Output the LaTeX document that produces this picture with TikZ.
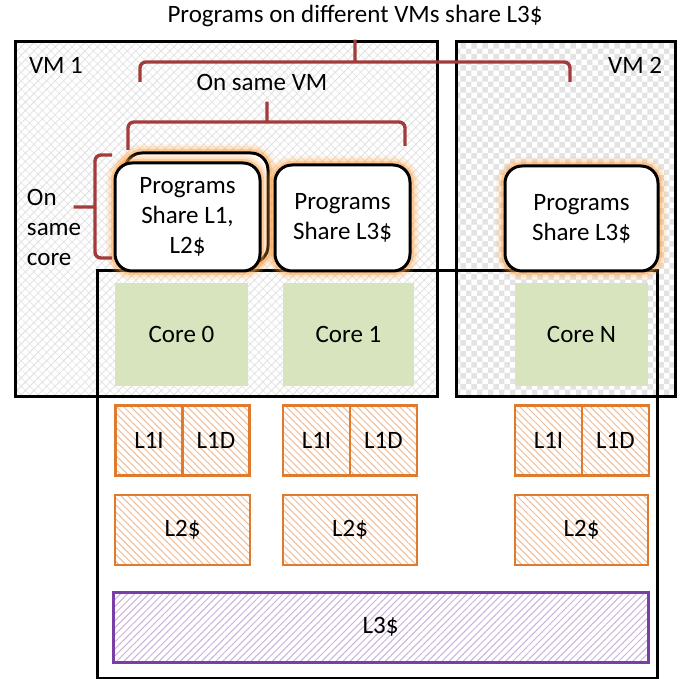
\documentclass[tikz,border=0pt]{standalone}
\usepackage{fontspec}
\setmainfont{Carlito}
\usetikzlibrary{patterns,patterns.meta,positioning}
\definecolor{bracered}{HTML}{A33B3B}
\definecolor{cacheorange}{HTML}{E07A2C}
\definecolor{lthreepurple}{HTML}{7A3FA6}
\definecolor{coregreen}{HTML}{D8E4BD}

\begin{document}
\begin{tikzpicture}[x=1pt,y=-1pt,
  every node/.style={font=\fontsize{25}{30}\selectfont,inner sep=0pt,outer sep=0pt},
  vmbox/.style={draw,line width=3pt,anchor=north west},
  prog/.style={draw,line width=3pt,fill=white,rounded corners=17pt,align=center,
               preaction={draw=orange!70,line width=18pt,opacity=.12},
               preaction={draw=orange!70,line width=13pt,opacity=.2},
               preaction={draw=orange!80,line width=8pt,opacity=.35}},
  core/.style={fill=coregreen,minimum height=103pt},
  cache/.style={draw=cacheorange,line width=2.8pt,
                pattern={Lines[angle=-45,distance=5pt,line width=1pt]},
                pattern color=cacheorange!50,minimum width=67pt,minimum height=70pt},
  brace/.style={draw=bracered,line width=3.4pt,rounded corners=6pt}
]
\useasboundingbox (0,0) rectangle (683,679);
\node (title) at (355,16) {Programs on different VMs share L3\$};
% virtual machines
\node[anchor=north west,pattern={Lines[angle=-45,distance=6pt,line width=.8pt]},pattern color=gray!18,
      minimum width=422pt,minimum height=354pt] (vm1b) at (15,42) {};
\node[vmbox,pattern={Lines[angle=45,distance=6pt,line width=.8pt]},pattern color=gray!25,
      minimum width=422pt,minimum height=354pt] (vm1) at (15,42) {};
\node[vmbox,pattern=checkerboard,pattern color=gray!22,minimum width=219pt,minimum height=354pt]
  (vm2) at (456,42) {};
\node[anchor=west] (vm1lbl) at (29,65) {VM 1};
\node[anchor=east] (vm2lbl) at (662,65) {VM 2};
% chip
\node[draw,line width=3pt,anchor=north west,minimum width=560pt,minimum height=407pt]
  (chip) at (97,271) {};
\node[core,minimum width=133pt] (core0) at (181.5,334.5) {Core 0};
\node[core,minimum width=131pt] (core1) at (348.5,334.5) {Core 1};
\node[core,minimum width=133pt] (coreN) at (581.5,334.5) {Core N};
% programs
\node[prog,minimum width=143pt,minimum height=110pt] (progback) at (196.5,208) {};
\node[prog,minimum width=145pt,minimum height=108pt] (prog0) at (187.5,217)
  {Programs\\Share L1,\\L2\$};
\node[prog,minimum width=135pt,minimum height=106pt] (prog1) at (342.5,218)
  {Programs\\Share L3\$};
\node[prog,minimum width=153pt,minimum height=105pt] (progN) at (581.5,218.5)
  {Programs\\Share L3\$};
% caches
\node[cache] (l1i0) at (149,440.5) {L1I};
\node[cache,right=0pt of l1i0] (l1d0) {L1D};
\node[cache,minimum width=135pt] (l2c0) at (182.5,530) {L2\$};
\node[cache] (l1i1) at (316.5,440.5) {L1I};
\node[cache,right=0pt of l1i1] (l1d1) {L1D};
\node[cache,minimum width=134pt] (l2c1) at (350,530) {L2\$};
\node[cache] (l1iN) at (548.5,440.5) {L1I};
\node[cache,right=0pt of l1iN] (l1dN) {L1D};
\node[cache,minimum width=133pt] (l2cN) at (581.5,530) {L2\$};
\node[draw=lthreepurple,line width=3pt,pattern={Lines[angle=45,distance=5pt,line width=1pt]},
      pattern color=lthreepurple!40,minimum width=535pt,minimum height=70pt] (l3c) at (380.5,627) {L3\$};
% braces
\draw[brace] (140,82) |- (348,62) .. controls (355,62) .. (355,54) -- (355,36)
  -- (355,54) .. controls (355,62) .. (362,62) -| (570,82);
\node (samevm) at (262,82) {On same VM};
\draw[brace] (128,150) |- (260,122) .. controls (267,122) .. (267,114) -- (267,98)
  -- (267,114) .. controls (267,122) .. (274,122) -| (405,146);
\draw[brace] (112,155) -| (95,200) .. controls (95,207) .. (87,207) -- (70,207)
  -- (87,207) .. controls (95,207) .. (95,214) |- (112,258);
\node[align=left,anchor=west] (samecore) at (27,227) {On\\same\\core};
\end{tikzpicture}
\end{document}
